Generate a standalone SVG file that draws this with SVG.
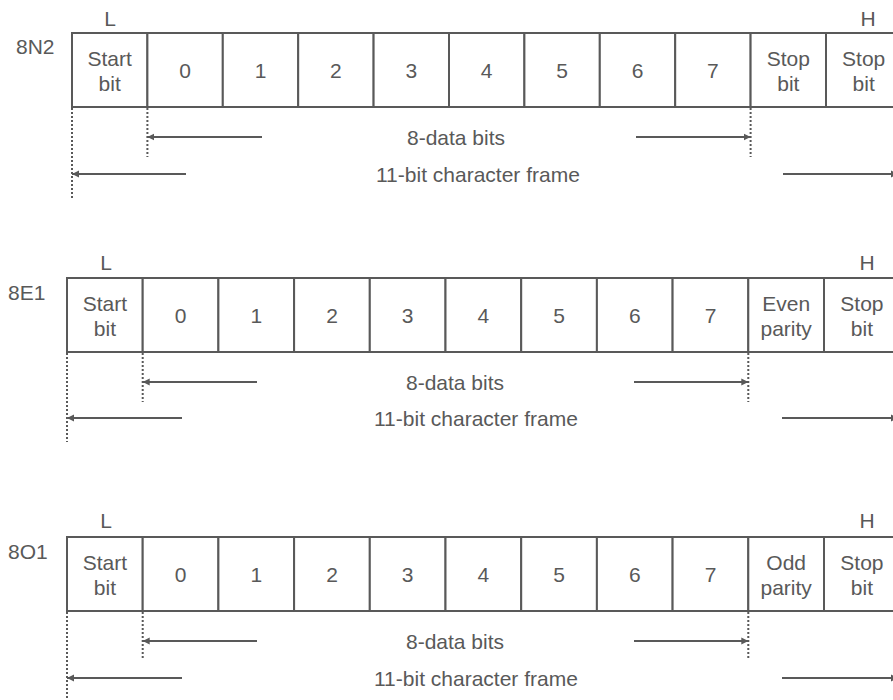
<svg xmlns="http://www.w3.org/2000/svg" width="893" height="700" viewBox="0 0 893 700">
<style>
  text { font-family: "Liberation Sans", Arial, sans-serif; font-size: 21px; fill: #595959; }
  .c { text-anchor: middle; }
  .cell { fill: #ffffff; stroke: #595959; stroke-width: 2; }
  .arr { stroke: #595959; stroke-width: 2; fill: none; marker-end: url(#ah); }
  .dot { stroke: #595959; stroke-width: 2; stroke-dasharray: 2 2; fill: none; }
</style>
<defs>
  <marker id="ah" markerUnits="userSpaceOnUse" markerWidth="8" markerHeight="8" refX="7" refY="4" orient="auto">
    <path d="M0,0.5 L7,4 L0,7.5 z" fill="#595959"/>
  </marker>
</defs>
<rect width="893" height="700" fill="#ffffff"/>

<!-- Frame 1: 8N2 -->
<g id="frame-8N2">
  <text x="16" y="54">8N2</text>
  <text class="c" x="110" y="26">L</text>
  <text class="c" x="868" y="26">H</text>
  <g id="n2-start"><rect class="cell" x="72" y="33" width="75.4" height="74"/><text class="c" x="109.7" y="66">Start</text><text class="c" x="109.7" y="91">bit</text></g>
  <g id="n2-b0"><rect class="cell" x="147.4" y="33" width="75.4" height="74"/><text class="c" x="185.1" y="78">0</text></g>
  <g id="n2-b1"><rect class="cell" x="222.8" y="33" width="75.4" height="74"/><text class="c" x="260.5" y="78">1</text></g>
  <g id="n2-b2"><rect class="cell" x="298.2" y="33" width="75.4" height="74"/><text class="c" x="335.9" y="78">2</text></g>
  <g id="n2-b3"><rect class="cell" x="373.6" y="33" width="75.4" height="74"/><text class="c" x="411.3" y="78">3</text></g>
  <g id="n2-b4"><rect class="cell" x="449" y="33" width="75.4" height="74"/><text class="c" x="486.7" y="78">4</text></g>
  <g id="n2-b5"><rect class="cell" x="524.4" y="33" width="75.4" height="74"/><text class="c" x="562.1" y="78">5</text></g>
  <g id="n2-b6"><rect class="cell" x="599.8" y="33" width="75.4" height="74"/><text class="c" x="637.5" y="78">6</text></g>
  <g id="n2-b7"><rect class="cell" x="675.2" y="33" width="75.4" height="74"/><text class="c" x="712.9" y="78">7</text></g>
  <g id="n2-stop1"><rect class="cell" x="750.6" y="33" width="75.4" height="74"/><text class="c" x="788.3" y="66">Stop</text><text class="c" x="788.3" y="91">bit</text></g>
  <g id="n2-stop2"><rect class="cell" x="826" y="33" width="75.4" height="74"/><text class="c" x="863.7" y="66">Stop</text><text class="c" x="863.7" y="91">bit</text></g>
  <text class="c" x="456" y="145">8-data bits</text>
  <text x="376" y="182">11-bit character frame</text>
</g>

<!-- Frame 2: 8E1 -->
<g id="frame-8E1">
  <text x="8" y="300">8E1</text>
  <text class="c" x="106" y="270">L</text>
  <text class="c" x="867" y="270">H</text>
  <g id="e1-start"><rect class="cell" x="67" y="278" width="75.7" height="74"/><text class="c" x="104.9" y="311">Start</text><text class="c" x="104.9" y="336">bit</text></g>
  <g id="e1-b0"><rect class="cell" x="142.7" y="278" width="75.7" height="74"/><text class="c" x="180.6" y="323">0</text></g>
  <g id="e1-b1"><rect class="cell" x="218.4" y="278" width="75.7" height="74"/><text class="c" x="256.3" y="323">1</text></g>
  <g id="e1-b2"><rect class="cell" x="294.1" y="278" width="75.7" height="74"/><text class="c" x="332" y="323">2</text></g>
  <g id="e1-b3"><rect class="cell" x="369.8" y="278" width="75.7" height="74"/><text class="c" x="407.7" y="323">3</text></g>
  <g id="e1-b4"><rect class="cell" x="445.5" y="278" width="75.7" height="74"/><text class="c" x="483.4" y="323">4</text></g>
  <g id="e1-b5"><rect class="cell" x="521.2" y="278" width="75.7" height="74"/><text class="c" x="559.1" y="323">5</text></g>
  <g id="e1-b6"><rect class="cell" x="596.9" y="278" width="75.7" height="74"/><text class="c" x="634.8" y="323">6</text></g>
  <g id="e1-b7"><rect class="cell" x="672.6" y="278" width="75.7" height="74"/><text class="c" x="710.5" y="323">7</text></g>
  <g id="e1-parity"><rect class="cell" x="748.3" y="278" width="75.7" height="74"/><text class="c" x="786.2" y="311">Even</text><text class="c" x="786.2" y="336">parity</text></g>
  <g id="e1-stop"><rect class="cell" x="824" y="278" width="75.7" height="74"/><text class="c" x="861.9" y="311">Stop</text><text class="c" x="861.9" y="336">bit</text></g>
  <text class="c" x="455" y="390">8-data bits</text>
  <text x="374" y="426">11-bit character frame</text>
</g>

<!-- Frame 3: 8O1 -->
<g id="frame-8O1">
  <text x="8" y="559">8O1</text>
  <text class="c" x="106" y="528">L</text>
  <text class="c" x="867" y="528">H</text>
  <g id="o1-start"><rect class="cell" x="67" y="537" width="75.7" height="74"/><text class="c" x="104.9" y="570">Start</text><text class="c" x="104.9" y="595">bit</text></g>
  <g id="o1-b0"><rect class="cell" x="142.7" y="537" width="75.7" height="74"/><text class="c" x="180.6" y="582">0</text></g>
  <g id="o1-b1"><rect class="cell" x="218.4" y="537" width="75.7" height="74"/><text class="c" x="256.3" y="582">1</text></g>
  <g id="o1-b2"><rect class="cell" x="294.1" y="537" width="75.7" height="74"/><text class="c" x="332" y="582">2</text></g>
  <g id="o1-b3"><rect class="cell" x="369.8" y="537" width="75.7" height="74"/><text class="c" x="407.7" y="582">3</text></g>
  <g id="o1-b4"><rect class="cell" x="445.5" y="537" width="75.7" height="74"/><text class="c" x="483.4" y="582">4</text></g>
  <g id="o1-b5"><rect class="cell" x="521.2" y="537" width="75.7" height="74"/><text class="c" x="559.1" y="582">5</text></g>
  <g id="o1-b6"><rect class="cell" x="596.9" y="537" width="75.7" height="74"/><text class="c" x="634.8" y="582">6</text></g>
  <g id="o1-b7"><rect class="cell" x="672.6" y="537" width="75.7" height="74"/><text class="c" x="710.5" y="582">7</text></g>
  <g id="o1-parity"><rect class="cell" x="748.3" y="537" width="75.7" height="74"/><text class="c" x="786.2" y="570">Odd</text><text class="c" x="786.2" y="595">parity</text></g>
  <g id="o1-stop"><rect class="cell" x="824" y="537" width="75.7" height="74"/><text class="c" x="861.9" y="570">Stop</text><text class="c" x="861.9" y="595">bit</text></g>
  <text class="c" x="455" y="649">8-data bits</text>
  <text x="374" y="686">11-bit character frame</text>
</g>

<g id="connectors">
  <!-- frame 1 -->
  <line class="dot" x1="72" y1="108" x2="72" y2="200"/>
  <line class="dot" x1="147.4" y1="108" x2="147.4" y2="157"/>
  <line class="dot" x1="750.6" y1="108" x2="750.6" y2="157"/>
  <line class="arr" x1="262" y1="137" x2="147.4" y2="137"/>
  <line class="arr" x1="636" y1="137" x2="750.6" y2="137"/>
  <line class="arr" x1="186" y1="174" x2="72" y2="174"/>
  <line class="arr" x1="783" y1="174" x2="898" y2="174"/>
  <!-- frame 2 -->
  <line class="dot" x1="67" y1="353" x2="67" y2="442"/>
  <line class="dot" x1="142.7" y1="353" x2="142.7" y2="402"/>
  <line class="dot" x1="748.3" y1="353" x2="748.3" y2="402"/>
  <line class="arr" x1="257" y1="382" x2="142.7" y2="382"/>
  <line class="arr" x1="634" y1="382" x2="748.3" y2="382"/>
  <line class="arr" x1="182" y1="418" x2="67" y2="418"/>
  <line class="arr" x1="782" y1="418" x2="898" y2="418"/>
  <!-- frame 3 -->
  <line class="dot" x1="67" y1="612" x2="67" y2="700"/>
  <line class="dot" x1="142.7" y1="612" x2="142.7" y2="660"/>
  <line class="dot" x1="748.3" y1="612" x2="748.3" y2="660"/>
  <line class="arr" x1="257" y1="641" x2="142.7" y2="641"/>
  <line class="arr" x1="634" y1="641" x2="748.3" y2="641"/>
  <line class="arr" x1="182" y1="678" x2="67" y2="678"/>
  <line class="arr" x1="782" y1="678" x2="898" y2="678"/>
</g>
</svg>
